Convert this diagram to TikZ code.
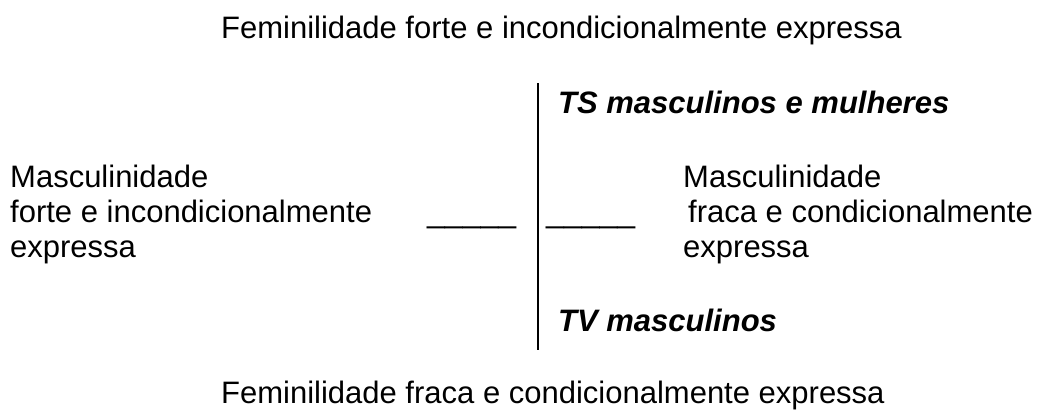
\documentclass[tikz,border=0pt]{standalone}
\usepackage{fontspec}
\setmainfont{Liberation Sans}
\usetikzlibrary{positioning}

\begin{document}
\begin{tikzpicture}[x=1pt,y=-1pt,
                    txt/.style={anchor=base west,inner sep=0pt,font=\fontsize{31}{35}\selectfont},
                    grp/.style={txt,font=\fontsize{31}{35}\selectfont\bfseries\itshape},
                    gap/.style={txt,font=\fontsize{32}{35}\selectfont}]

          \useasboundingbox (0,0) rectangle (1048,410);

          \node[txt] (fem1) at (221,38) {Feminilidade forte e incondicionalmente expressa};
          \node[txt] (fem2) at (221,403) {Feminilidade fraca e condicionalmente expressa};

          \node[grp] (ts) at (558,113) {TS masculinos e mulheres};
          \node[grp] (tv) at (558,331) {TV masculinos};

          \node[txt] (ml1) at (10,187) {Masculinidade};
          \node[txt] (ml2) [below=35pt of ml1.base west,anchor=base west] {forte e incondicionalmente};
          \node[txt] (ml3) [below=35pt of ml2.base west,anchor=base west] {expressa};

          \node[txt] (mr1) at (683,187) {Masculinidade};
          \node[txt] (mr2) [below=35pt of mr1.base west,anchor=base west,xshift=5pt] {fraca e condicionalmente};
          \node[txt] (mr3) [below=35pt of mr2.base west,anchor=base west,xshift=-5pt] {expressa};

          \node[gap] (gapl) at (427,222) {\_\_\_\_\_};
          \node[gap] (gapr) at (546,222) {\_\_\_\_\_};

          \coordinate (axtop) at (538,83);
          \coordinate (axbot) at (538,350);
          \draw[line width=2pt] (axtop) -- (axbot);

        \end{tikzpicture}
\end{document}
